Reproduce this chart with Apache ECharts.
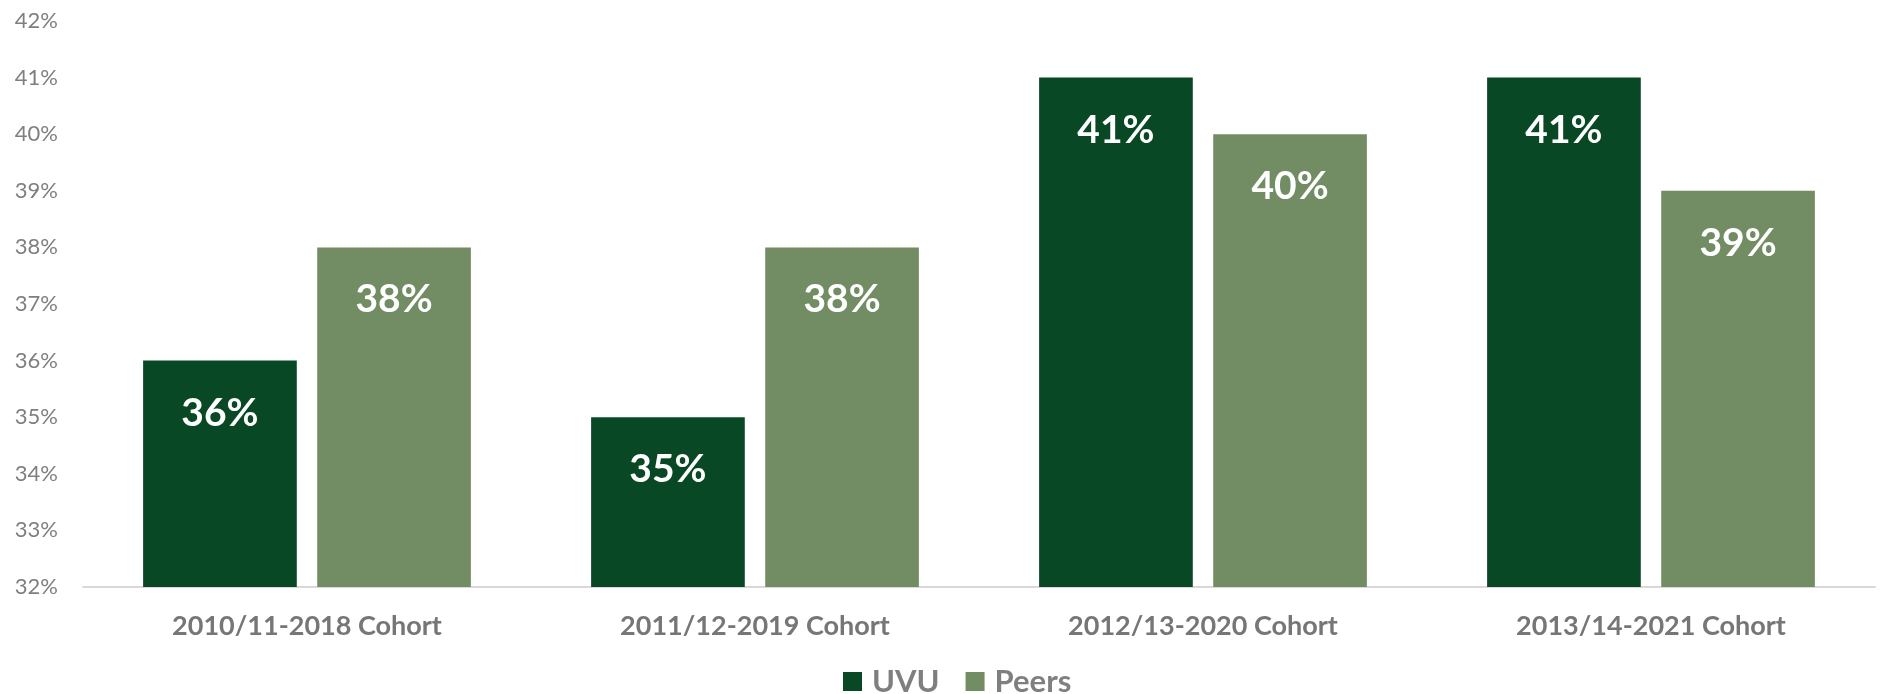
<!DOCTYPE html>
<html><head><meta charset="utf-8">
<script src="https://cdn.jsdelivr.net/npm/echarts@6/dist/echarts.min.js"></script>
<style>html,body{margin:0;padding:0;background:#fff}#c{width:1883px;height:694px}</style>
</head><body><div id="c"></div>
<script>
const categories = ['2010/11-2018 Cohort','2011/12-2019 Cohort','2012/13-2020 Cohort','2013/14-2021 Cohort'];
const uvuValues = [36, 35, 41, 41];
const peersValues = [38, 38, 40, 39];
const yMin = 32, yMax = 42, yStep = 1;

const chart = echarts.init(document.getElementById('c'));
const font = 'Lato, "Open Sans", sans-serif';
const lbl = {
  show: true, position: 'insideTop', distance: 33,
  color: '#ffffff', fontFamily: font, fontWeight: 'bold', fontSize: 39,
  formatter: p => p.value + '%'
};
chart.setOption({
  animation: false,
  textStyle: { fontFamily: font },
  grid: { left: 83, right: 8, top: 21, bottom: 107, containLabel: false },
  legend: {
    left: 838, top: 661,
    itemWidth: 19, itemHeight: 19, itemGap: 26,
    icon: 'rect',
    textStyle: { color: '#7f7f7f', fontFamily: font, fontWeight: 'bold', fontSize: 31, padding: [0,0,0,5] },
    data: ['UVU', 'Peers']
  },
  xAxis: {
    type: 'category', data: categories,
    axisLine: { lineStyle: { color: '#d9d9d9', width: 2 } },
    axisTick: { show: false },
    axisLabel: { color: '#767676', fontFamily: font, fontWeight: 'bold', fontSize: 27, margin: 26 }
  },
  yAxis: {
    type: 'value', min: yMin, max: yMax, interval: yStep,
    splitLine: { show: false },
    axisLine: { show: false }, axisTick: { show: false },
    axisLabel: { color: '#7f7f7f', fontFamily: font, fontSize: 22, margin: 25, formatter: v => v + '%' }
  },
  series: [
    { name: 'UVU', type: 'bar', data: uvuValues, barWidth: '34.3%', barGap: '13.3%',
      itemStyle: { color: '#084825' }, label: lbl },
    { name: 'Peers', type: 'bar', data: peersValues, barWidth: '34.3%',
      itemStyle: { color: '#728d64' }, label: lbl }
  ]
});
</script></body></html>
